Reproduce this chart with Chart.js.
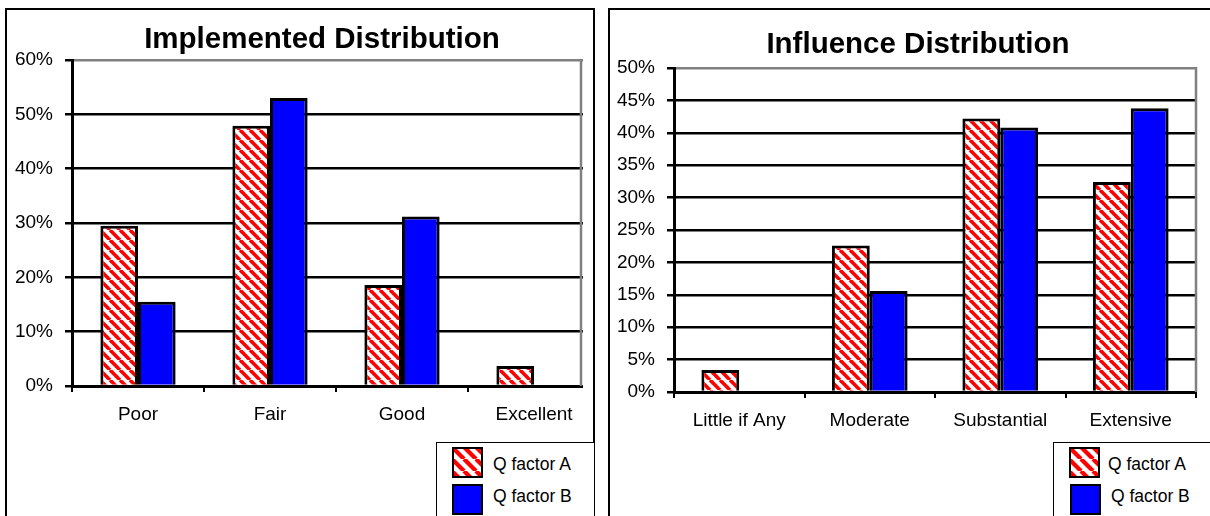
<!DOCTYPE html>
<html>
<head>
<meta charset="utf-8">
<script src="https://cdn.jsdelivr.net/npm/chart.js@4.4.1/dist/chart.umd.min.js"></script>
<style>
  html, body { margin: 0; padding: 0; background: #fff; }
  body { width: 1210px; height: 516px; position: relative; overflow: hidden;
         font-family: "Liberation Sans", Arial, sans-serif; color: #000; }
  .panel { position: absolute; border: 2px solid #000; box-sizing: border-box; }
  .title { position: absolute; font-weight: bold; font-size: 29.5px; line-height: 1;
           transform: translateX(-50%); white-space: nowrap; }
  .wrap { position: absolute; top: 0; height: 516px; overflow: hidden; }
  .wrap canvas { position: absolute; left: 0; top: 0; }
  .legend { position: absolute; border: 1.5px solid #000; background: #fff; box-sizing: border-box; }
  .legend canvas { position: absolute; }
  .legend span { position: absolute; font-size: 17.5px; line-height: 1; white-space: nowrap; }
</style>
</head>
<body>
<div class="panel" style="left:5px;top:8px;width:590px;height:520px"></div>
<div class="panel" style="left:608px;top:8px;width:620px;height:520px"></div>

<!-- the left plot area is cut off at x=583 in the original picture -->
<div class="wrap" style="left:0;width:583px"><canvas id="implChart" width="602" height="516"></canvas></div>
<div class="wrap" style="left:600px;width:598px"><canvas id="inflChart" width="598" height="516"></canvas></div>

<div class="title" style="left:322px;top:23px">Implemented Distribution</div>
<div class="title" style="left:918px;top:28px">Influence Distribution</div>

<div id="implLegend" class="legend" style="left:436px;top:442px;width:159px;height:90px"></div>
<div id="inflLegend" class="legend" style="left:1053px;top:442px;width:170px;height:90px"></div>

<script>
// data (percent)
const seriesNames = ["Q factor A", "Q factor B"];

const implCategories = ["Poor", "Fair", "Good", "Excellent"];
const implA = [29.5, 47.9, 18.6, 3.7];
const implB = [15.5, 53.0, 31.2, 0];
const implTicks = { max: 60, step: 10 };

const inflCategories = ["Little if Any", "Moderate", "Substantial", "Extensive"];
const inflA = [3.4, 22.6, 42.2, 32.4];
const inflB = [0, 15.6, 40.8, 43.8];
const inflTicks = { max: 50, step: 5 };

const FONT = "'Liberation Sans', Arial, sans-serif";

// red/white diagonal hatch
function hatchCanvas(size, lw) {
  const c = document.createElement("canvas");
  c.width = size;
  c.height = size;
  const g = c.getContext("2d");
  g.fillStyle = "#fff";
  g.fillRect(0, 0, size, size);
  g.strokeStyle = "#ff0000";
  g.lineWidth = lw;
  for (const o of [-size, 0, size]) {
    g.beginPath();
    g.moveTo(o, 0);
    g.lineTo(o + size, size);
    g.stroke();
  }
  return c;
}

// gray right edge of the plot area (at the visible edge if the area runs past it)
const plotEdge = {
  id: "plotEdge",
  beforeDatasetsDraw(chart, args, opts) {
    const a = chart.chartArea;
    const x = Math.min(a.right, (opts.visibleWidth || chart.width) - 2);
    const g = chart.ctx;
    g.save();
    g.strokeStyle = "#808080";
    g.lineWidth = 2.5;
    g.beginPath();
    g.moveTo(x, a.top - 1);
    g.lineTo(x, a.bottom);
    g.stroke();
    g.restore();
  }
};

function makeChart(id, labels, a, b, yt, box) {
  const ctx = document.getElementById(id).getContext("2d");
  const hatch = ctx.createPattern(hatchCanvas(10, 3.6), "repeat");

  return new Chart(ctx, {
    type: "bar",
    data: {
      labels: labels,
      datasets: [
        {
          label: seriesNames[0],
          data: a,
          backgroundColor: hatch,
          borderColor: "#000",
          borderWidth: 3
        },
        {
          label: seriesNames[1],
          data: b,
          backgroundColor: "#0000ff",
          borderColor: "#000",
          borderWidth: 3
        }
      ]
    },
    plugins: [plotEdge],
    options: {
      responsive: false,
      animation: false,
      devicePixelRatio: 1,
      layout: { padding: { top: box.top, right: box.right, left: 0, bottom: 0 } },
      datasets: { bar: { categoryPercentage: box.cat, barPercentage: 1 } },
      plugins: {
        legend: { display: false },
        title: { display: false },
        tooltip: { enabled: false },
        plotEdge: { visibleWidth: box.visible }
      },
      scales: {
        x: {
          z: 1,
          grid: {
            offset: true,
            drawOnChartArea: false,
            drawTicks: true,
            tickLength: 6,
            color: "#000",
            lineWidth: 2
          },
          border: { color: "#000", width: 3 },
          ticks: {
            color: "#000",
            font: { family: FONT, size: 19 },
            padding: 11,
            maxRotation: 0,
            autoSkip: false
          },
          afterFit: (s) => { s.height = box.xh; }
        },
        y: {
          min: 0,
          max: yt.max,
          ticks: {
            stepSize: yt.step,
            color: "#000",
            font: { family: FONT, size: 19 },
            padding: 12,
            callback: (v) => v + "%"
          },
          grid: {
            color: (c) => (c.tick && c.tick.value === yt.max ? "#808080" : "#000"),
            lineWidth: 2.5,
            tickColor: "#000",
            tickLength: 7
          },
          border: { color: "#000", width: 3 },
          afterFit: (s) => { s.width = box.yw; }
        }
      }
    }
  });
}

function makeLegend(id, offsets) {
  const box = document.getElementById(id);
  seriesNames.forEach((name, i) => {
    const sw = document.createElement("canvas");
    sw.width = 31;
    sw.height = 31;
    sw.style.left = offsets.sw[i] + "px";
    sw.style.top = (4 + i * 37) + "px";
    const g = sw.getContext("2d");
    if (i === 0) {
      g.fillStyle = g.createPattern(hatchCanvas(12, 4.2), "repeat");
    } else {
      g.fillStyle = "#0000ff";
    }
    g.fillRect(0, 0, 31, 31);
    g.strokeStyle = "#000";
    g.lineWidth = 2;
    g.strokeRect(1, 1, 29, 29);
    box.appendChild(sw);

    const t = document.createElement("span");
    t.textContent = name;
    t.style.left = offsets.text[i] + "px";
    t.style.top = (13 + i * 32) + "px";
    box.appendChild(t);
  });
}

makeChart("implChart", implCategories, implA, implB, implTicks,
  { top: 60, right: 2, yw: 72, xh: 130, cat: 0.57, visible: 583 });
makeChart("inflChart", inflCategories, inflA, inflB, inflTicks,
  { top: 68, right: 2, yw: 74, xh: 124, cat: 0.58, visible: 598 });

makeLegend("implLegend", { sw: [15, 15], text: [56, 56] });
makeLegend("inflLegend", { sw: [15, 16], text: [54, 57] });
</script>
</body>
</html>
